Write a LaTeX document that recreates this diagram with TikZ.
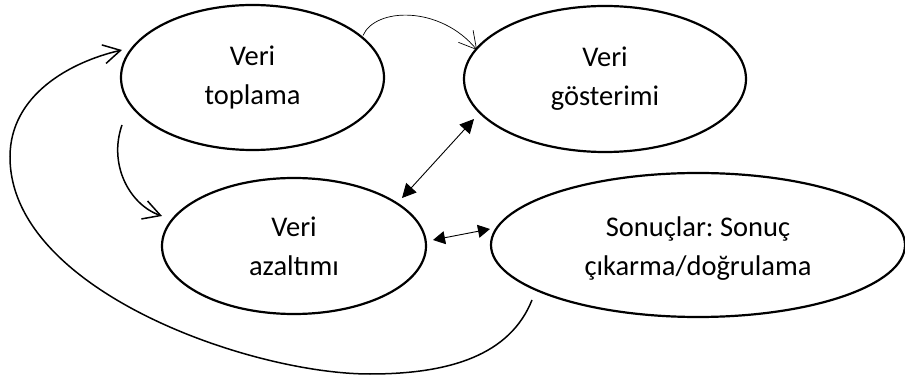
\documentclass[tikz,border=0pt]{standalone}
\usepackage{fontspec}
\setmainfont{Carlito}
\frenchspacing
\usetikzlibrary{arrows.meta,calc,shapes.geometric}
\begin{document}
\begin{tikzpicture}[x=1pt,y=-1pt,
  stage/.style={ellipse,draw,line width=2.2pt,inner sep=0pt,outer sep=0pt,align=center,
    font=\fontsize{28.5}{39}\selectfont},
  barbtip/.style={-{Straight Barb[length=17pt,width=19pt]}},
  loopline/.style={line width=1.5pt},
  thinline/.style={line width=0.7pt},
  twotri/.style={{Triangle[length=14pt,width=14pt]}-{Triangle[length=14pt,width=14pt]}},
  twotrismall/.style={{Triangle[length=12pt,width=13pt]}-{Triangle[length=12pt,width=13pt]}}
]
\useasboundingbox (0,0) rectangle (905,379);

\node[stage,minimum width=263pt,minimum height=145pt] (e1) at (252.5,77.5) {Veri\\toplama};
\node[stage,minimum width=282pt,minimum height=146pt] (e2) at (605,79) {Veri\\gösterimi};
\node[stage,minimum width=264pt,minimum height=136pt] (e3) at (294,246) {Veri\\azaltımı};
\node[stage,minimum width=414pt,minimum height=144pt] (e4) at (698,245) {\rule{0pt}{26pt}Sonuçlar: Sonuç\\çıkarma/doğrulama};

\coordinate (loopB) at (370,374);
\coordinate (loopL) at (10,157);

% Veri toplama -> Veri gösterimi (thin arc)
\draw[thinline,barbtip] ($(e1.center)+(110.5,-42)$) .. controls +(12,-28) and +(-37,-45) .. ($(e2.center)+(-128,-29)$);

% Veri toplama -> Veri azaltimi
\draw[loopline,barbtip] ($(e1.center)+(-130.5,47.5)$) .. controls +(-14,40) and +(-32,-11) .. ($(e3.center)+(-132,-30)$);

% Veri gösterimi <-> Veri azaltimi
\draw[line width=0.9pt,twotri] ($(e2.center)+(-131,40)$) -- ($(e3.center)+(108,-48)$);

% Veri azaltimi <-> Sonuclar
\draw[line width=0.9pt,twotrismall] ($(e3.center)+(139,-6)$) -- ($(e4.center)+(-208,-16)$);

% Sonuclar -> Veri toplama (big loop)
\draw[loopline,barbtip] ($(e4.center)+(-166,55)$) .. controls +(-22,55) and +(80,0) .. (loopB)
  .. controls +(-120,0) and +(0,133) .. (loopL)
  .. controls +(0,-62) and +(-52,12) .. ($(e1.center)+(-130.5,-27.5)$);
\end{tikzpicture}
\end{document}
